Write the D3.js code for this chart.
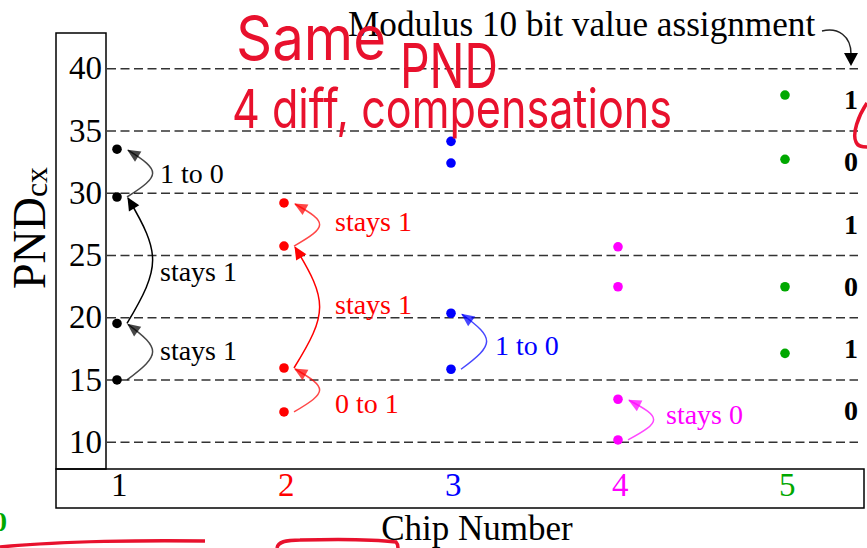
<!DOCTYPE html>
<html><head><meta charset="utf-8">
<script src="https://cdn.jsdelivr.net/npm/d3@7"></script>
<style>body{margin:0;background:#fff}svg{display:block}</style>
</head><body><svg id="c" width="867" height="548"></svg>
<script>
// ---------- data ----------
const chips = [1, 2, 3, 4, 5];
const chipColors = ["#000000", "#ff0000", "#0000ff", "#ff00ff", "#00a800"];
const yTicks = [10, 15, 20, 25, 30, 35, 40];
const pndChip1 = [33.5, 29.66, 19.5, 14.96];
const pndChip2 = [29.18, 25.72, 15.92, 12.39];
const pndChip3 = [34.13, 32.39, 20.32, 15.82];
const pndChip4 = [25.66, 22.45, 13.41, 10.14];
const pndChip5 = [37.85, 32.69, 22.45, 17.1];
const bitBands = [12.5, 17.5, 22.5, 27.5, 32.5, 37.5];
const bitValues = ["0", "1", "0", "1", "0", "1"];
const transFrom  = [29.66, 19.5, 14.96, 25.72, 15.92, 12.39, 15.82, 10.14];
const transTo    = [33.5, 29.66, 19.5, 29.18, 25.72, 15.92, 20.32, 13.41];
const transChip  = [1, 1, 1, 2, 2, 2, 3, 4];
const transLabel = ["1 to 0", "stays 1", "stays 1", "stays 1", "stays 1", "0 to 1", "1 to 0", "stays 0"];
const titleText = "Modulus 10 bit value assignment";
const xTitle = "Chip Number";
const handNotes = ["Same", "PND", "4 diff, compensations"];

// ---------- setup ----------
const svg = d3.select("#c");
const serif = "'Liberation Serif','Times New Roman',serif";
const x = d3.scaleLinear().domain([1, 5]).range([117, 785]);
const y = d3.scaleLinear().domain([10, 40]).range([441.7, 68.3]);
const color = d3.scaleOrdinal().domain(chips).range(chipColors);

// boxes
svg.append("rect").attr("x", 56).attr("y", 33).attr("width", 50).attr("height", 436)
  .attr("fill", "none").attr("stroke", "#000").attr("stroke-width", 1.5);
svg.append("rect").attr("x", 56).attr("y", 469).attr("width", 808).attr("height", 39)
  .attr("fill", "none").attr("stroke", "#000").attr("stroke-width", 1.5);

// grid lines
const grid = svg.append("g").attr("transform", "translate(107,0)")
  .call(d3.axisRight(y).tickValues(yTicks).tickSize(751).tickFormat(""));
grid.select(".domain").remove();
grid.selectAll("line").attr("stroke", "#333").attr("stroke-width", 1.4).attr("stroke-dasharray", "9,4.5");

// y axis labels
const ya = svg.append("g").attr("transform", "translate(106,0)")
  .call(d3.axisLeft(y).tickValues(yTicks).tickSize(0).tickPadding(4));
ya.select(".domain").remove();
ya.selectAll("text").attr("font-family", serif).attr("font-size", 33).attr("fill", "#000");

// x axis labels
const xa = svg.append("g").attr("transform", "translate(0,469)")
  .call(d3.axisBottom(x).tickValues(chips).tickSize(0).tickPadding(4).tickFormat(d3.format("d")));
xa.select(".domain").remove();
xa.selectAll("text").attr("font-family", serif).attr("font-size", 33)
  .attr("fill", d => color(d)).attr("dx", "0.05em");

// titles
svg.append("text").attr("x", 477).attr("y", 540).attr("text-anchor", "middle")
  .attr("font-family", serif).attr("font-size", 35).text(xTitle);
const yl = svg.append("text").attr("transform", "translate(45,228) rotate(-90)")
  .attr("text-anchor", "middle").attr("font-family", serif);
yl.append("tspan").attr("font-size", 46).text("PND");
yl.append("tspan").attr("font-size", 32).attr("dy", 2).text("cx");

svg.append("text").attr("x", 348).attr("y", 36).attr("font-family", serif)
  .attr("font-size", 35.2).text(titleText);

// title arrow
svg.append("path").attr("d", "M822,31 C838,27 851,36 851,54")
  .attr("fill", "none").attr("stroke", "#222").attr("stroke-width", 1.5);
svg.append("path").attr("d", "M844,53 L858,53 L851,66 Z").attr("fill", "#000");

// bits
svg.append("g").selectAll("text").data(bitBands).join("text")
  .attr("x", 851).attr("y", d => y(d)).attr("dy", "0.35em").attr("text-anchor", "middle")
  .attr("font-family", serif).attr("font-weight", "bold").attr("font-size", 28)
  .text((d, i) => bitValues[i]);

// transition arrows
const labelDx = [43, 43, 43, 51, 51, 51, 44, 48];
const labelDy = [0, 11, -2, -3, -3, 13, 4, -5];
function arrow(i) {
  const px = x(transChip[i]);
  const y0 = y(transFrom[i]), y1 = y(transTo[i]);
  const h = y0 - y1;
  const sx = px + 10, sy = y0, ex = px + 11, ey = y1 + 1;
  const c1x = px + 44, c1y = y0 - 0.45 * h, c2x = px + 44, c2y = y1 + 0.45 * h;
  const col = color(transChip[i]);
  const op = h < 70 ? 0.72 : 1;
  const g = svg.append("g");
  g.append("path").attr("d", `M${sx},${sy} C${c1x},${c1y} ${c2x},${c2y} ${ex},${ey}`)
    .attr("fill", "none").attr("stroke", col).attr("stroke-width", 1.5).attr("stroke-opacity", op);
  let dx = ex - c2x, dy = ey - c2y; const L = Math.hypot(dx, dy); dx /= L; dy /= L;
  const tipx = ex + dx * 1, tipy = ey + dy * 1;
  const bx = ex - dx * 12, by = ey - dy * 12;
  const nx = -dy, ny = dx;
  g.append("path").attr("d", `M${tipx},${tipy} L${bx + nx * 6},${by + ny * 6} L${bx - nx * 6},${by - ny * 6} Z`)
    .attr("fill", col).attr("fill-opacity", op);
  svg.append("text").attr("x", px + labelDx[i]).attr("y", (y0 + y1) / 2 + labelDy[i]).attr("dy", "0.35em")
    .attr("font-family", serif).attr("font-size", 28).attr("fill", col).text(transLabel[i]);
}
transLabel.forEach((_, i) => arrow(i));

// points
[pndChip1, pndChip2, pndChip3, pndChip4, pndChip5].forEach((vals, ci) => {
  svg.append("g").selectAll("circle").data(vals).join("circle")
    .attr("cx", x(chips[ci])).attr("cy", d => y(d)).attr("r", 4.8)
    .attr("fill", chipColors[ci]);
});

// handwritten annotations (overlay)
const hand = "'Inter','Noto Sans','DejaVu Sans',sans-serif";
const red = "#e8112d";
svg.append("text").attr("x", 236).attr("y", 60).attr("font-family", hand).attr("font-weight", 400)
  .attr("font-size", 62).attr("fill", red).attr("textLength", 150).attr("lengthAdjust", "spacingAndGlyphs").text(handNotes[0]);
svg.append("text").attr("x", 400).attr("y", 88).attr("font-family", hand).attr("font-weight", 400)
  .attr("font-size", 62).attr("fill", red).attr("textLength", 98).attr("lengthAdjust", "spacingAndGlyphs").text(handNotes[1]);
svg.append("text").attr("x", 232).attr("y", 128).attr("font-family", hand).attr("font-weight", 400)
  .attr("font-size", 54).attr("fill", red).attr("textLength", 440).attr("lengthAdjust", "spacingAndGlyphs").text(handNotes[2]);
svg.append("path").attr("d", "M867,103 C858,116 852,134 856,142 C858,147 863,147 867,147")
  .attr("fill", "none").attr("stroke", red).attr("stroke-width", 3.5);
svg.append("path").attr("d", "M0,547 C60,541 150,540 205,541")
  .attr("fill", "none").attr("stroke", red).attr("stroke-width", 3.5);
svg.append("path").attr("d", "M277,548 C278,542 285,540 300,540 C340,539 380,540 396,542 C398,544 398,546 398,548")
  .attr("fill", "none").attr("stroke", red).attr("stroke-width", 3.5);
svg.append("text").attr("x", -7).attr("y", 531).attr("font-family", serif).attr("font-weight", "bold")
  .attr("font-size", 28).attr("fill", "#00a800").text("0");
</script></body></html>
